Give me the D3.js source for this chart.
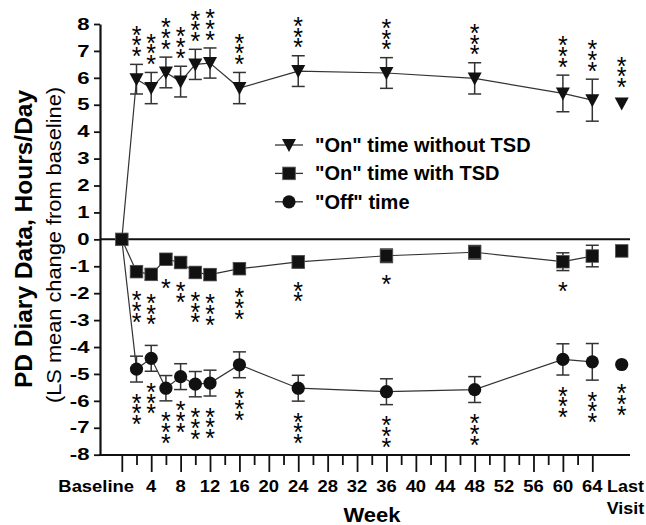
<!DOCTYPE html>
<html>
<head>
<meta charset="utf-8">
<script src="https://cdn.jsdelivr.net/npm/d3@7"></script>
<style>
  body { margin: 0; background: #fff; }
  svg { display: block; font-family: "Liberation Sans", Arial, sans-serif; }
  .axis path, .axis line { stroke: #111; }
</style>
</head>
<body>
<div id="chart"></div>
<script>
// weeks of each visit (last visit is drawn on its own, not joined)
var weeks = [0, 2, 4, 6, 8, 10, 12, 16, 24, 36, 48, 60, 64];
var lastWeek = 68;

// "On" time without TSD
var onNoTsd = [0, 5.95, 5.62, 6.2, 5.86, 6.5, 6.55, 5.62, 6.25, 6.18, 5.98, 5.42, 5.17];
var onNoTsdErr = [0, 0.55, 0.58, 0.57, 0.57, 0.56, 0.56, 0.58, 0.57, 0.57, 0.58, 0.68, 0.78];
var onNoTsdSig = ["", "***", "***", "***", "***", "***", "***", "***", "***", "***", "***", "***", "***"];
var onNoTsdLast = 5.05, onNoTsdLastSig = "***";

// "On" time with TSD
var onTsd = [0, -1.2, -1.3, -0.74, -0.86, -1.23, -1.31, -1.09, -0.84, -0.61, -0.48, -0.83, -0.62];
var onTsdErr = [0, 0.2, 0.2, 0.2, 0.2, 0.2, 0.2, 0.2, 0.22, 0.25, 0.25, 0.33, 0.4];
var onTsdSig = ["", "***", "***", "*", "**", "***", "***", "***", "**", "*", "", "*", ""];
var onTsdLast = -0.43, onTsdLastSig = "";

// "Off" time
var offTime = [0, -4.82, -4.42, -5.53, -5.1, -5.38, -5.34, -4.66, -5.53, -5.66, -5.58, -4.46, -4.55];
var offTimeErr = [0, 0.48, 0.48, 0.47, 0.48, 0.47, 0.48, 0.48, 0.48, 0.48, 0.48, 0.58, 0.68];
var offTimeSig = ["", "***", "***", "***", "***", "***", "***", "***", "***", "***", "***", "***", "***"];
var offTimeLast = -4.65, offTimeLastSig = "***";

var yTicks = d3.range(-8, 9, 1);
var xTicks = d3.range(0, 65, 2);
var xLabels = [0, 4, 8, 12, 16, 20, 24, 28, 32, 36, 40, 44, 48, 52, 56, 60, 64];
var legendLabels = ['"On" time without TSD', '"On" time with TSD', '"Off" time'];

var width = 646, height = 525;

var svg = d3.select("#chart").append("svg")
    .attr("width", width)
    .attr("height", height);

var x = d3.scaleLinear().domain([0, 64]).range([121.8, 592.3]);
var y = d3.scaleLinear().domain([-8, 8]).range([454.7, 24]);

// marker shapes
var tri = "M-7,-6L7,-6L0,7Z";
function drawMarker(g, kind, cx, cy) {
    if (kind === "tri") {
        g.append("path").attr("d", tri)
            .attr("transform", "translate(" + cx + "," + cy + ")")
            .attr("fill", "#111");
    } else if (kind === "sq") {
        g.append("rect").attr("x", cx - 6.3).attr("y", cy - 6.3)
            .attr("width", 12.6).attr("height", 12.6)
            .attr("fill", "#111").attr("stroke", "#555").attr("stroke-width", 0.8);
    } else {
        g.append("circle").attr("cx", cx).attr("cy", cy).attr("r", 6.6)
            .attr("fill", "#111");
    }
}

// y axis
var yAxis = svg.append("g").attr("class", "axis")
    .attr("transform", "translate(100,0)")
    .call(d3.axisLeft(y).tickValues(yTicks).tickSize(6).tickSizeOuter(0).tickFormat(""));
yAxis.select(".domain").attr("stroke-width", 2.2);
yAxis.selectAll(".tick line").attr("stroke-width", 1.8);

svg.append("g").selectAll("text")
    .data(yTicks).enter()
    .append("text")
    .attr("transform", function(d) { return "translate(89.5," + y(d) + ") scale(1.4,1)"; })
    .attr("dy", "0.36em")
    .attr("text-anchor", "end")
    .style("font-size", "15.8px")
    .style("font-weight", "bold")
    .text(function(d) { return String(d); });

// x axis
svg.append("line")
    .attr("x1", 99).attr("x2", 630)
    .attr("y1", 455).attr("y2", 455)
    .attr("stroke", "#111").attr("stroke-width", 2.2);

var xAxis = svg.append("g").attr("class", "axis")
    .attr("transform", "translate(0,455)")
    .call(d3.axisBottom(x).tickValues(xTicks).tickSizeOuter(0).tickFormat(""));
xAxis.select(".domain").remove();
xAxis.selectAll(".tick line")
    .attr("y2", function(d) { return d % 4 === 0 ? 17 : 10; })
    .attr("stroke-width", 1.8);

svg.append("g").selectAll("text")
    .data(xLabels).enter()
    .append("text")
    .attr("transform", function(d) {
        var px = d === 0 ? 134 : x(d);
        return "translate(" + px + ",492) scale(1.15,1)";
    })
    .attr("text-anchor", function(d) { return d === 0 ? "end" : "middle"; })
    .style("font-size", "16px")
    .style("font-weight", "bold")
    .text(function(d) { return d === 0 ? "Baseline" : d; });

svg.append("text")
    .attr("transform", "translate(625.5,492) scale(1.12,1)")
    .attr("text-anchor", "middle")
    .style("font-size", "16px")
    .style("font-weight", "bold")
    .text("Last");
svg.append("text")
    .attr("transform", "translate(625.5,513.5) scale(1.12,1)")
    .attr("text-anchor", "middle")
    .style("font-size", "16px")
    .style("font-weight", "bold")
    .text("Visit");

svg.append("text")
    .attr("transform", "translate(372,521.5) scale(1.1,1)")
    .attr("text-anchor", "middle")
    .style("font-size", "20px")
    .style("font-weight", "bold")
    .text("Week");

// y titles
svg.append("text")
    .attr("transform", "translate(32,239) rotate(-90)")
    .attr("text-anchor", "middle")
    .style("font-size", "24.5px")
    .style("font-weight", "bold")
    .text("PD Diary Data, Hours/Day");
svg.append("text")
    .attr("transform", "translate(61,245) rotate(-90)")
    .attr("text-anchor", "middle")
    .style("font-size", "20px")
    .attr("textLength", 316)
    .attr("lengthAdjust", "spacingAndGlyphs")
    .text("(LS mean change from baseline)");

// zero line
svg.append("line")
    .attr("x1", 100).attr("x2", 630)
    .attr("y1", y(0)).attr("y2", y(0))
    .attr("stroke", "#111").attr("stroke-width", 2);

var series = [
    { vals: onNoTsd, err: onNoTsdErr, sig: onNoTsdSig, last: onNoTsdLast, lastSig: onNoTsdLastSig, kind: "tri", up: true },
    { vals: onTsd, err: onTsdErr, sig: onTsdSig, last: onTsdLast, lastSig: onTsdLastSig, kind: "sq", up: false },
    { vals: offTime, err: offTimeErr, sig: offTimeSig, last: offTimeLast, lastSig: offTimeLastSig, kind: "circ", up: false }
];

var line = d3.line()
    .x(function(d, i) { return x(weeks[i]); })
    .y(function(d) { return y(d); });

var plot = svg.append("g");

// lines first
series.forEach(function(s) {
    plot.append("path")
        .attr("d", line(s.vals))
        .attr("fill", "none")
        .attr("stroke", "#333")
        .attr("stroke-width", 1.2);
});

// stacked asterisks, one text per star
var starSize = 25, starStep = 10.7;
function drawStars(g, sig, cx, cy, errPx, up) {
    if (!sig) return;
    var start = Math.max(errPx, 8) + (up ? 14 : 15);
    for (var k = 0; k < sig.length; k++) {
        var c = up ? cy - start - k * starStep : cy + start + k * starStep;
        g.append("text")
            .attr("x", cx)
            .attr("y", c + 0.585 * starSize)
            .attr("text-anchor", "middle")
            .style("font-size", starSize + "px")
            .attr("fill", "#000")
            .text("*");
    }
}

series.forEach(function(s) {
    var g = plot.append("g");
    s.vals.forEach(function(v, i) {
        var cx = x(weeks[i]), cy = y(v);
        var e = s.err[i];
        if (e > 0) {
            var y1 = y(v + e), y2 = y(v - e);
            g.append("line").attr("x1", cx).attr("x2", cx).attr("y1", y1).attr("y2", y2)
                .attr("stroke", "#333").attr("stroke-width", 1.5);
            g.append("line").attr("x1", cx - 6.5).attr("x2", cx + 6.5).attr("y1", y1).attr("y2", y1)
                .attr("stroke", "#333").attr("stroke-width", 1.5);
            g.append("line").attr("x1", cx - 6.5).attr("x2", cx + 6.5).attr("y1", y2).attr("y2", y2)
                .attr("stroke", "#333").attr("stroke-width", 1.5);
        }
        if (i > 0) drawStars(g, s.sig[i], cx, cy, e * (y(0) - y(1)), s.up);
    });
    // last visit point
    drawStars(g, s.lastSig, x(lastWeek), y(s.last), 8, s.up);
});

// markers on top, baseline square last so it sits above
series.slice().reverse().forEach(function(s) {
    var g = plot.append("g");
    s.vals.forEach(function(v, i) {
        if (i === 0) return;
        drawMarker(g, s.kind, x(weeks[i]), y(v));
    });
    drawMarker(g, s.kind, x(lastWeek), y(s.last));
});
drawMarker(plot, "sq", x(0), y(0));

// legend
var legend = svg.append("g");
var legendKinds = ["tri", "sq", "circ"];
legendLabels.forEach(function(lab, i) {
    var ly = 145 + i * 28.4;
    legend.append("line").attr("x1", 275).attr("x2", 303).attr("y1", ly).attr("y2", ly)
        .attr("stroke", "#333").attr("stroke-width", 1.3);
    drawMarker(legend, legendKinds[i], 289, ly);
    legend.append("text")
        .attr("x", 315).attr("y", ly + 7)
        .style("font-size", "20px")
        .style("font-weight", "bold")
        .text(lab);
});
</script>
</body>
</html>
